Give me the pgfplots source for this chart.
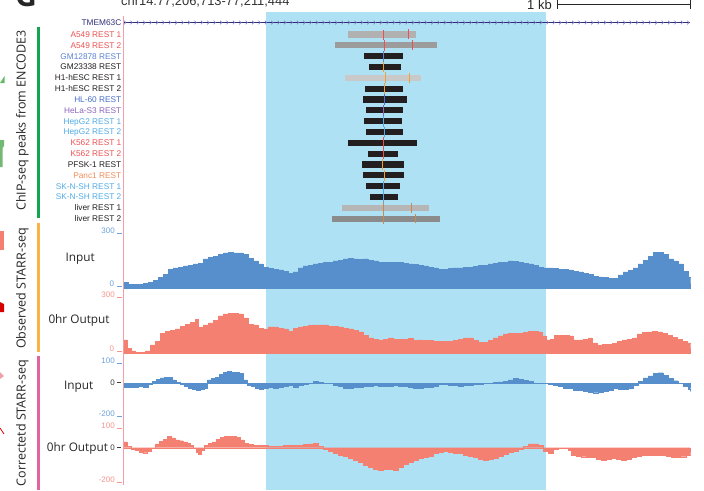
\documentclass[border=0pt]{standalone}
\usepackage{pgfplots}
\pgfplotsset{compat=1.18}
\usepackage{fontspec}
\setmainfont{Liberation Sans}
\newfontfamily\osans{Open Sans}
\usetikzlibrary{decorations.markings}
\definecolor{trkblue}{RGB}{86,143,204}
\definecolor{trksal}{RGB}{244,128,114}
\definecolor{hl}{RGB}{174,225,244}
\definecolor{pinkline}{RGB}{240,160,170}
\definecolor{navy}{RGB}{46,46,120}
\definecolor{arrowc}{RGB}{128,124,204}
\definecolor{cRed}{RGB}{236,80,80}
\definecolor{cBlue}{RGB}{90,130,210}
\definecolor{cBlue2}{RGB}{70,110,200}
\definecolor{cPurp}{RGB}{140,100,190}
\definecolor{cLBlue}{RGB}{80,170,230}
\definecolor{cOrg}{RGB}{240,140,90}
\definecolor{cBlk}{RGB}{35,31,32}
\definecolor{sOrg}{RGB}{240,160,50}
\definecolor{sBrown}{RGB}{200,138,80}
\definecolor{tkBlue}{RGB}{110,160,220}
\definecolor{tkSal}{RGB}{244,150,140}
\definecolor{tkDark}{RGB}{60,60,60}
\definecolor{gA}{RGB}{177,177,177}
\definecolor{gB}{RGB}{156,156,156}
\definecolor{gC}{RGB}{201,201,201}
\definecolor{gD}{RGB}{182,182,182}
\definecolor{gE}{RGB}{139,139,139}
\definecolor{barG}{RGB}{20,165,80}
\definecolor{barO}{RGB}{250,180,70}
\definecolor{barP}{RGB}{225,100,160}
\pgfplotsset{trk/.style={scale only axis, width=567pt, xmin=123, xmax=690, hide axis, anchor=south west, clip=false}}
\tikzset{rl/.style={font=\fontsize{8.3}{9}\selectfont, inner sep=0pt, anchor=base east},
  tk/.style={font=\fontsize{8}{9}\selectfont, inner sep=0pt, anchor=base east},
  tl/.style={font=\osans\fontsize{11.8}{13}\selectfont, inner sep=0pt, anchor=base west, text=black!85},
  vt/.style={font=\osans\fontsize{12.5}{14}\selectfont, inner sep=0pt, anchor=base, rotate=90, text=black!85}}
\begin{document}
\begin{tikzpicture}[x=1pt,y=1pt]
\useasboundingbox (0,0) rectangle (704,-490);
% highlight
\fill[hl] (266,-12) rectangle (546,-490);
% header
\node[font=\osans\bfseries\fontsize{30}{30}\selectfont, inner sep=0pt, anchor=base west, text=black!85] at (15,-6.5) {G};
\node[font=\fontsize{12.9}{14}\selectfont, inner sep=0pt, anchor=base west, text=black!80] at (121,-5.5) {chr14:77,206,713-77,211,444};
\node[font=\fontsize{13}{14}\selectfont, inner sep=0pt, anchor=base east, text=black!85] at (552,-9) {1 kb};
\draw[line width=0.8pt, black!85] (557,-4) -- (690.5,-4);
\draw[line width=0.8pt, black!85] (557,0) -- (557,-9);
\draw[line width=0.8pt, black!85] (690.5,0) -- (690.5,-9);
% cropped pieces of neighbouring panel at the left edge
\fill[green!55!black!60] (0,-83) -- (4.5,-76) -- (4.5,-83) -- cycle;
\fill[green!50!black!55] (0,-140) -- (4,-140) -- (4,-146) -- (2.5,-148) -- (2.5,-167) -- (0,-167) -- cycle;
\fill[trksal] (0,-231) -- (4,-231) -- (4,-250) -- (0,-250) -- cycle;
\fill[red!85!black] (0,-302) -- (4,-304) -- (4,-312) -- (0,-312) -- cycle;
\fill[pinkline] (0,-372) -- (4,-376) -- (0,-379) -- cycle;
\draw[red!85!black, line width=0.8pt] (0,-428) -- (4,-434);
% side titles and bars
\fill[barG] (36.5,-26.5) rectangle (39.5,-218);
\fill[barO] (36.5,-223) rectangle (39.5,-352);
\fill[barP] (36.5,-356) rectangle (39.5,-490);
\node[vt] at (25.5,-120.5) {ChIP-seq peaks from ENCODE3};
\node[vt] at (25.5,-288.5) {Observed STARR-seq};
\node[vt] at (25.5,-423) {Correctetd STARR-seq};
% ChIP-seq peaks
\begin{axis}[trk, ymin=0.5, ymax=18.5, height=194.94pt, at={(123pt,-224.03pt)}]
\addplot[navy, line width=1pt, postaction={decorate}, decoration={markings, mark=between positions 0.004 and 1 step 6.4pt with {\draw[arrowc, line width=0.6pt] (-1.2pt,1.8pt) -- (0.6pt,0pt) -- (-1.2pt,-1.8pt);}}] coordinates {(123,19.108) (690,19.108)};
\addplot[gA, line width=6.2pt] coordinates {(348,18) (416,18)};
\addplot[gB, line width=6.2pt] coordinates {(335,17) (437,17)};
\addplot[cBlk, line width=6.2pt] coordinates {(364,16) (403,16)};
\addplot[cBlk, line width=6.2pt] coordinates {(369,15) (401,15)};
\addplot[gC, line width=6.2pt] coordinates {(345,14) (421,14)};
\addplot[cBlk, line width=6.2pt] coordinates {(365,13) (403,13)};
\addplot[cBlk, line width=6.2pt] coordinates {(363,12) (407,12)};
\addplot[cBlk, line width=6.2pt] coordinates {(366,11) (403,11)};
\addplot[cBlk, line width=6.2pt] coordinates {(364,10) (402,10)};
\addplot[cBlk, line width=6.2pt] coordinates {(366,9) (403,9)};
\addplot[cBlk, line width=6.2pt] coordinates {(348,8) (417,8)};
\addplot[cBlk, line width=6.2pt] coordinates {(368,7) (398,7)};
\addplot[cBlk, line width=6.2pt] coordinates {(362,6) (404,6)};
\addplot[cBlk, line width=6.2pt] coordinates {(363,5) (404,5)};
\addplot[cBlk, line width=6.2pt] coordinates {(366,4) (400,4)};
\addplot[cBlk, line width=6.2pt] coordinates {(370,3) (398,3)};
\addplot[gD, line width=6.2pt] coordinates {(342,2) (429,2)};
\addplot[gE, line width=6.2pt] coordinates {(332,1) (440,1)};
% summits
\addplot[cRed, line width=0.9pt] coordinates {(383.3,17.5) (383.3,18.45)};
\addplot[cRed, line width=0.9pt] coordinates {(384.3,16.5) (384.3,17.5)};
\addplot[cBlue, line width=0.9pt] coordinates {(383.3,15.5) (383.3,16.5)};
\addplot[sOrg, line width=0.9pt] coordinates {(383.3,14.5) (383.3,15.5)};
\addplot[sOrg, line width=0.9pt] coordinates {(385.3,13.5) (385.3,14.5)};
\addplot[sOrg, line width=0.9pt] coordinates {(384.3,12.5) (384.3,13.5)};
\addplot[cBlue2, line width=0.9pt] coordinates {(384.3,11.5) (384.3,12.5)};
\addplot[cPurp, line width=0.9pt] coordinates {(383.3,10.5) (383.3,11.5)};
\addplot[cLBlue, line width=0.9pt] coordinates {(383.3,9.5) (383.3,10.5)};
\addplot[cLBlue, line width=0.9pt] coordinates {(384.3,8.5) (384.3,9.5)};
\addplot[cRed, line width=0.9pt] coordinates {(383.3,7.5) (383.3,8.5)};
\addplot[cRed, line width=0.9pt] coordinates {(383.3,6.5) (383.3,7.5)};
\addplot[sOrg, line width=0.9pt] coordinates {(382.3,5.5) (382.3,6.5)};
\addplot[sOrg, line width=0.9pt] coordinates {(384.3,4.5) (384.3,5.5)};
\addplot[cLBlue, line width=0.9pt] coordinates {(383.3,3.5) (383.3,4.5)};
\addplot[cLBlue, line width=0.9pt] coordinates {(383.3,2.5) (383.3,3.5)};
\addplot[sBrown, line width=0.9pt] coordinates {(383.3,1.5) (383.3,2.5)};
\addplot[sBrown, line width=0.9pt] coordinates {(383.3,0.5) (383.3,1.5)};
\addplot[cRed, line width=0.9pt] coordinates {(408.3,17.55) (408.3,18.5)};
\addplot[cRed, line width=0.9pt] coordinates {(412.3,16.55) (412.3,17.45)};
\addplot[sOrg, line width=0.9pt] coordinates {(409.3,13.55) (409.3,14.45)};
\addplot[sBrown, line width=0.9pt] coordinates {(411.3,1.55) (411.3,2.45)};
\addplot[sBrown, line width=0.9pt] coordinates {(415.3,0.55) (415.3,1.45)};
\end{axis}
% Observed Input
\begin{axis}[trk, ymin=0, ymax=300, height=55pt, at={(123pt,-288.3pt)}]
\addplot[const plot, fill=trkblue, draw=trkblue, line width=0.3pt] coordinates {
(123,34)(128,23)(133,21)(138,23)(143,26)(148,34)(153,45)(158,59)(163,78)(168,105)(173,111)(178,116)(183,122)(188,127)(193,133)(198,138)(203,160)(208,168)(213,176)(218,187)(223,193)(228,195)(233,193)(238,193)(243,184)(248,165)(253,149)(258,133)(263,116)(268,108)(273,105)(278,100)(283,92)(288,83)(293,89)(298,111)(303,122)(308,127)(313,133)(318,138)(323,143)(328,143)(333,149)(338,154)(343,160)(348,163)(353,160)(358,157)(363,160)(368,154)(373,149)(378,143)(383,141)(388,143)(393,143)(398,141)(403,138)(408,133)(413,130)(418,127)(423,122)(428,116)(433,111)(438,105)(443,105)(448,108)(453,111)(458,111)(463,113)(468,116)(473,119)(478,124)(483,127)(488,133)(493,138)(498,141)(503,143)(508,149)(513,146)(518,143)(523,138)(528,133)(533,124)(538,116)(543,111)(548,111)(553,108)(558,105)(563,103)(568,100)(573,92)(578,89)(583,83)(588,75)(593,67)(598,62)(603,59)(608,56)(613,56)(618,73)(623,89)(628,97)(633,111)(638,133)(643,154)(648,176)(653,195)(658,198)(663,187)(668,160)(673,149)(678,133)(683,94)(688,62)(690,51)} \closedcycle;
\end{axis}
% Observed 0hr Output
\begin{axis}[trk, ymin=0, ymax=300, height=55pt, at={(123pt,-353pt)}]
\addplot[const plot, fill=trksal, draw=trksal, line width=0.3pt] coordinates {
(123,71)(127,27)(131,11)(135,5)(140,5)(145,11)(150,44)(155,65)(160,109)(165,120)(170,125)(175,131)(180,145)(185,158)(190,169)(195,185)(198,142)(203,153)(208,164)(213,180)(218,202)(223,213)(228,218)(233,218)(238,213)(243,191)(248,158)(253,153)(258,136)(263,131)(268,142)(273,142)(278,136)(283,131)(288,120)(293,136)(298,142)(303,147)(308,150)(313,153)(318,153)(323,153)(328,147)(333,145)(338,142)(343,136)(348,131)(353,125)(358,115)(363,98)(368,82)(373,76)(378,71)(383,76)(388,82)(393,76)(398,74)(403,76)(408,79)(413,68)(418,71)(423,68)(428,68)(433,65)(438,63)(443,63)(448,65)(453,68)(458,76)(463,82)(468,82)(473,68)(478,60)(483,60)(488,68)(493,82)(498,93)(503,104)(508,109)(513,109)(518,106)(523,112)(528,117)(533,117)(538,115)(542,93)(546,71)(550,76)(554,98)(559,98)(564,98)(569,93)(573,71)(578,71)(583,76)(588,82)(592,55)(597,44)(602,46)(607,49)(612,52)(617,65)(622,71)(627,76)(632,82)(637,104)(642,112)(647,115)(652,117)(657,115)(662,106)(667,98)(672,85)(677,74)(682,65)(687,55)(690,49)} \closedcycle;
\end{axis}
% Corrected Input
\begin{axis}[trk, ymin=-200, ymax=100, height=54pt, at={(123pt,-419pt)}]
\addplot[const plot, fill=trkblue, draw=trkblue, line width=0.3pt] coordinates {
(123,-21)(128,-22)(133,-22)(138,-19)(143,-21)(148,-6)(152,11)(156,22)(160,28)(164,33)(168,33)(172,17)(176,3)(180,-6)(184,-17)(188,-28)(192,-33)(196,-39)(200,-33)(204,-28)(207,17)(211,25)(215,31)(219,50)(223,58)(227,64)(231,58)(235,58)(239,53)(243,17)(247,-11)(251,-19)(255,-28)(259,-36)(263,-31)(268,-21)(273,-28)(278,-21)(283,-17)(288,-14)(293,-21)(298,-11)(303,-8)(308,0)(313,11)(318,3)(323,-3)(328,-3)(333,-11)(338,-19)(343,-28)(348,-28)(353,-21)(358,-21)(363,-19)(368,-17)(373,-11)(378,-17)(383,-17)(388,-17)(393,-11)(398,-17)(403,-17)(408,-22)(413,-28)(418,-29)(423,-22)(428,-21)(433,-17)(438,-6)(443,-6)(448,-11)(453,-14)(458,-17)(463,-14)(468,-11)(473,-8)(478,-6)(483,-3)(488,-2)(493,3)(498,6)(503,11)(508,17)(513,26)(518,19)(523,14)(528,11)(533,0)(538,0)(543,-3)(548,-6)(553,-11)(558,-19)(563,-28)(568,-31)(573,-39)(578,-42)(583,-47)(588,-50)(593,-54)(598,-50)(603,-44)(608,-39)(613,-29)(618,-36)(623,-36)(628,-28)(633,-11)(638,8)(643,28)(648,39)(653,53)(658,57)(663,44)(668,25)(673,13)(678,0)(683,-19)(688,-33)(690,-48)} \closedcycle;
\end{axis}
% Corrected 0hr Output
\begin{axis}[trk, ymin=-200, ymax=100, height=54pt, at={(123pt,-483.7pt)}]
\addplot[const plot, fill=trksal, draw=trksal, line width=0.3pt] coordinates {
(123,33)(127,9)(131,-7)(135,-16)(139,-24)(143,-28)(147,-18)(151,-2)(155,21)(159,37)(163,48)(167,65)(171,54)(175,43)(179,39)(183,32)(187,24)(190,15)(193,-3)(196,-24)(198,-35)(201,-13)(204,15)(208,23)(212,32)(216,48)(220,59)(224,65)(228,65)(232,62)(236,57)(240,43)(244,26)(248,18)(253,15)(258,15)(263,15)(268,9)(273,9)(278,9)(283,12)(288,15)(293,15)(298,13)(303,18)(308,21)(313,23)(318,7)(323,-7)(328,-18)(333,-31)(338,-43)(343,-49)(348,-57)(353,-68)(358,-82)(363,-96)(368,-110)(373,-120)(378,-124)(383,-121)(388,-120)(393,-124)(398,-110)(403,-92)(408,-82)(413,-70)(418,-60)(423,-52)(428,-48)(433,-33)(438,-24)(443,-17)(448,-24)(453,-29)(458,-32)(463,-41)(468,-46)(473,-54)(478,-63)(483,-68)(488,-63)(493,-59)(498,-46)(503,-35)(508,-27)(513,-17)(518,-7)(523,9)(528,21)(533,21)(538,12)(543,-21)(548,-29)(553,-9)(558,-4)(563,-3)(568,-13)(571,-41)(576,-49)(581,-50)(586,-52)(591,-54)(596,-63)(601,-68)(606,-64)(611,-60)(616,-63)(621,-68)(626,-64)(631,-54)(636,-46)(641,-41)(646,-41)(651,-41)(656,-41)(661,-41)(666,-49)(671,-54)(676,-54)(681,-50)(686,-41)(690,-46)} \closedcycle;
\end{axis}
% left boundary line
\draw[pinkline, line width=0.9pt] (123.3,-16) -- (123.3,-485);
% row labels
\node[rl, text=navy] at (121.5,-25.3) {TMEM63C};
\foreach \lab/\col [count=\i] in {A549 REST 1/cRed, A549 REST 2/cRed, GM12878 REST/cBlue, GM23338 REST/cBlk, H1-hESC REST 1/cBlk, H1-hESC REST 2/cBlk, HL-60 REST/cBlue2, HeLa-S3 REST/cPurp, HepG2 REST 1/cLBlue, HepG2 REST 2/cLBlue, K562 REST 1/cRed, K562 REST 2/cRed, PFSK-1 REST/cBlk, Panc1 REST/cOrg, SK-N-SH REST 1/cLBlue, SK-N-SH REST 2/cLBlue, liver REST 1/cBlk, liver REST 2/cBlk}
  \node[rl, text=\col] at (121.5,{-(34.5+10.83*(\i-1)+3.0)}) {\lab};
% track labels
\node[tl] at (65.5,-261.7) {Input};
\node[tl] at (48.3,-323) {0hr Output};
\node[tl] at (64,-389) {Input};
\node[tl] at (46.7,-451) {0hr Output};
% track scales
\node[tk, text=tkBlue] at (115,-233.3) {300}; \draw[tkBlue, line width=0.5pt] (117.3,-233.3) -- (121.7,-233.3);
\node[tk, text=tkBlue] at (114.3,-286.3) {0}; \draw[tkBlue, line width=0.5pt] (117.3,-286.3) -- (121.7,-286.3);
\node[tk, text=tkSal] at (115,-297.3) {300}; \draw[tkSal, line width=0.5pt] (117.3,-297.3) -- (121.7,-297.3);
\node[tk, text=tkSal] at (114.3,-351.7) {0}; \draw[tkSal, line width=0.5pt] (117.3,-351.7) -- (121.7,-351.7);
\node[tk, text=tkBlue] at (115,-363.3) {100}; \draw[tkBlue, line width=0.5pt] (117.3,-363.3) -- (121.7,-363.3);
\node[tk, text=tkDark] at (115,-385.5) {0}; \draw[tkDark, line width=0.6pt] (117.3,-382.7) -- (121,-382.7);
\node[tk, text=tkBlue] at (115,-416.7) {-200}; \draw[tkBlue, line width=0.5pt] (117.3,-416.7) -- (121.7,-416.7);
\node[tk, text=tkSal] at (115,-428.3) {100}; \draw[tkSal, line width=0.5pt] (117.3,-428.3) -- (121.7,-428.3);
\node[tk, text=tkDark] at (115,-450.5) {0}; \draw[tkDark, line width=0.6pt] (117.3,-447.7) -- (121,-447.7);
\node[tk, text=tkSal] at (115,-482.3) {-200}; \draw[tkSal, line width=0.5pt] (117.3,-482.3) -- (121.7,-482.3);
\end{tikzpicture}
\end{document}
